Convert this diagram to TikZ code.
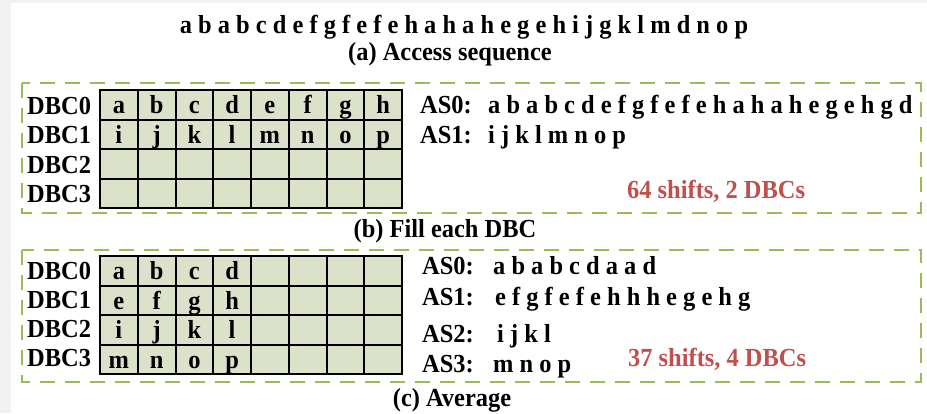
\documentclass[tikz,border=0pt]{standalone}
\usepackage{fontspec}
\setmainfont{Liberation Serif}[FakeStretch=0.94]
\definecolor{pagegrey}{HTML}{F2F2F2}
\definecolor{framegreen}{HTML}{9BBB59}
\definecolor{cellfill}{HTML}{DCE1CA}
\definecolor{shiftred}{HTML}{C0504D}

\tikzset{
  txt/.style={font=\fontsize{26}{30}\selectfont\bfseries, inner sep=0pt},
  lbl/.style={txt, anchor=base west},
  caption/.style={txt, anchor=base},
  note/.style={lbl, text=shiftred},
  cell/.style={txt, draw=black, line width=2pt, fill=cellfill,
    minimum width=37.75pt, minimum height=29.5pt,
    text height=22pt, text depth=4pt, anchor=center},
  framebox/.style={draw=framegreen, line width=2.6pt, dash pattern=on 15pt off 10pt},
}

\begin{document}
\begin{tikzpicture}[x=1pt, y=-1pt]
  % page
  \useasboundingbox (0,0) rectangle (927,413);
  \fill[pagegrey] (0,0) rectangle (927,413);
  \fill[white] (11,3) rectangle (927,413);

  % (a) the access sequence
  \node[caption] (seq) at (464,33) {a b a b c d e f g f e f e h a h a h e g e h i j g k l m d n o p};
  \node[caption] (capa) at (450,60) {(a) Access sequence};

  % (b) fill each DBC
  \draw[framebox] (22,83) rectangle (921,213);
  \foreach \lst [count=\r from 0] in
      {{a,b,c,d,e,f,g,h},{i,j,k,l,m,n,o,p},{{},{},{},{},{},{},{},{}},{{},{},{},{},{},{},{},{}}} {
    \foreach \ch [count=\c from 0] in \lst {
      \node[cell] (b\r\c) at ({100+37.75*(\c+0.5)},{90+29.5*(\r+0.5)}) {\ch};
    }
  }
  \node[lbl] (bdbc0) at (27,114) {DBC0};
  \node[lbl] (bdbc1) at (27,143) {DBC1};
  \node[lbl] (bdbc2) at (27,173) {DBC2};
  \node[lbl] (bdbc3) at (27,202) {DBC3};
  \node[lbl] (bas0) at (420,113) {AS0:};
  \node[lbl] (bas1) at (420,143) {AS1:};
  \node[lbl] (bseq0) at (488,113) {a b a b c d e f g f e f e h a h a h e g e h g d};
  \node[lbl] (bseq1) at (488,143) {i j k l m n o p};
  \node[note] (bnote) at (627,198) {64 shifts, 2 DBCs};
  \node[caption] (capb) at (445,237) {(b) Fill each DBC};

  % (c) average
  \draw[framebox] (22,250) rectangle (921,382);
  \foreach \lst [count=\r from 0] in
      {{a,b,c,d,{},{},{},{}},{e,f,g,h,{},{},{},{}},{i,j,k,l,{},{},{},{}},{m,n,o,p,{},{},{},{}}} {
    \foreach \ch [count=\c from 0] in \lst {
      \node[cell] (c\r\c) at ({100+37.75*(\c+0.5)},{256+29.5*(\r+0.5)}) {\ch};
    }
  }
  \node[lbl] (cdbc0) at (27,279) {DBC0};
  \node[lbl] (cdbc1) at (27,308) {DBC1};
  \node[lbl] (cdbc2) at (27,337) {DBC2};
  \node[lbl] (cdbc3) at (27,366) {DBC3};
  \node[lbl] (cas0) at (422,274) {AS0:};
  \node[lbl] (cas1) at (422,305) {AS1:};
  \node[lbl] (cas2) at (422,342) {AS2:};
  \node[lbl] (cas3) at (422,372) {AS3:};
  \node[lbl] (cseq0) at (493,274) {a b a b c d a a d};
  \node[lbl] (cseq1) at (495,305) {e f g f e f e h h h e g e h g};
  \node[lbl] (cseq2) at (497,342) {i j k l};
  \node[lbl] (cseq3) at (493,372) {m n o p};
  \node[note] (cnote) at (628,366) {37 shifts, 4 DBCs};
  \node[caption] (capc) at (452,406) {(c) Average};
\end{tikzpicture}
\end{document}
